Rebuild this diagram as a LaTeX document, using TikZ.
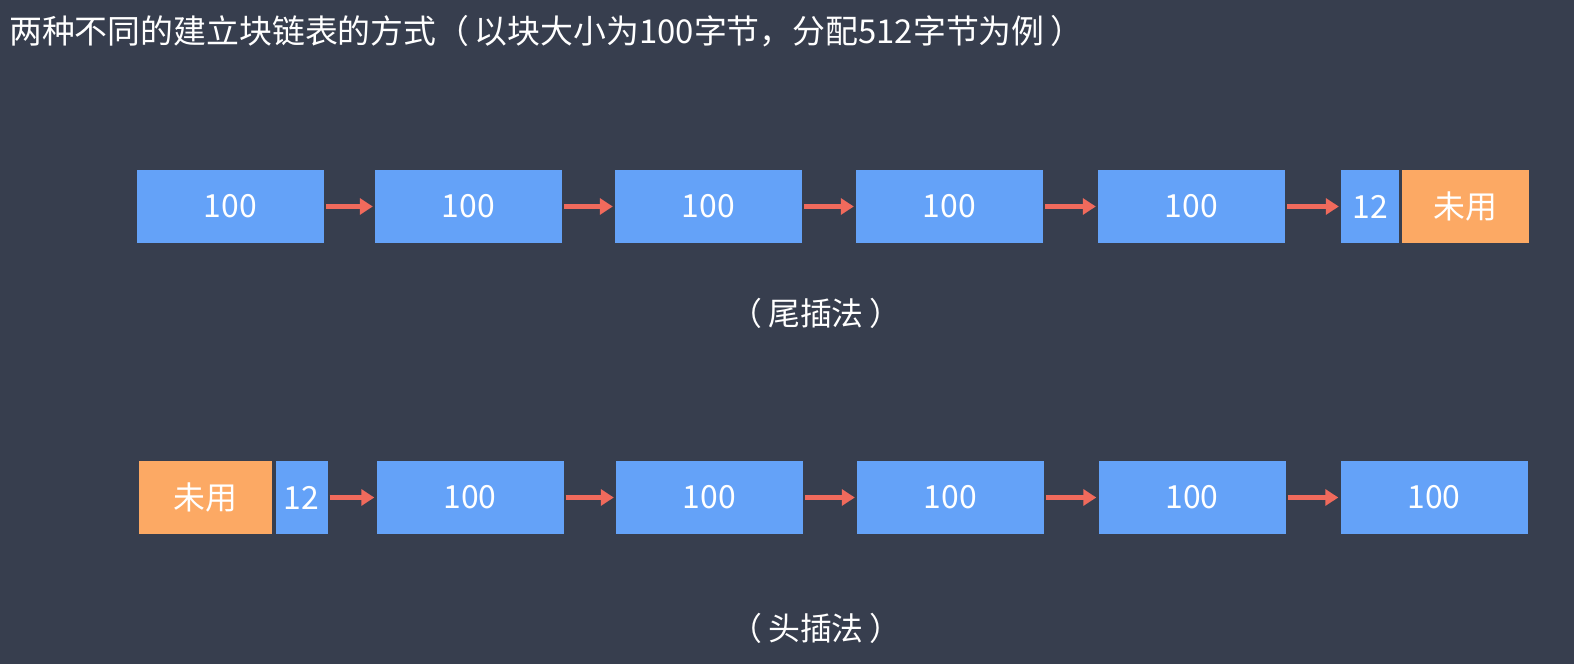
\documentclass[tikz,border=0pt]{standalone}
\usepackage{fontspec}
\setmainfont{Noto Sans CJK SC}
\usetikzlibrary{arrows.meta}
\definecolor{bgc}{HTML}{373E4E}
\definecolor{blk}{HTML}{64A2F8}
\definecolor{unused}{HTML}{FCA964}
\definecolor{arr}{HTML}{F06A5C}
\tikzset{
  blockbox/.style={fill=blk, draw=none, minimum height=73bp, inner sep=0pt, text=white, font=\fontsize{32}{36}\selectfont},
  unusedbox/.style={blockbox, fill=unused},
  link/.style={arr, line width=4.5bp, -{Triangle[length=13bp,width=16bp]}, shorten <=2bp, shorten >=2bp},
  caption/.style={text=white, font=\fontsize{32}{36}\selectfont, inner sep=0pt}
}
\begin{document}
\begin{tikzpicture}[x=1bp,y=-1bp]
\fill[bgc] (0,0) rectangle (1574,664);
\useasboundingbox (0,0) rectangle (1574,664);
\node[caption, anchor=west, font=\fontsize{33}{36}\selectfont] (title) at (9,31) {两种不同的建立块链表的方式（\,以块大小为100字节，分配512字节为例\,）};
% top row (tail insertion)
\node[blockbox, minimum width=187bp] (t1) at (230.5,206.5) {100};
\node[blockbox, minimum width=187bp] (t2) at (468.5,206.5) {100};
\node[blockbox, minimum width=187bp] (t3) at (708.5,206.5) {100};
\node[blockbox, minimum width=187bp] (t4) at (949.5,206.5) {100};
\node[blockbox, minimum width=187bp] (t5) at (1191.5,206.5) {100};
\node[blockbox, minimum width=58bp] (t6) at (1370,206.5) {12};
\node[unusedbox, minimum width=127bp] (t7) at (1465,206.5) {未用};
\draw[link] (t1.east) -- (t2.west);
\draw[link] (t2.east) -- (t3.west);
\draw[link] (t3.east) -- (t4.west);
\draw[link] (t4.east) -- (t5.west);
\draw[link] (t5.east) -- (t6.west);
\node[caption] (cap1) at (816,313) {（\,尾插法\,）};
% bottom row (head insertion)
\node[unusedbox, minimum width=133bp] (b0) at (205.5,497.5) {未用};
\node[blockbox, minimum width=52bp] (b1) at (301.5,497.5) {12};
\node[blockbox, minimum width=187bp] (b2) at (470,497.5) {100};
\node[blockbox, minimum width=187bp] (b3) at (709.5,497.5) {100};
\node[blockbox, minimum width=187bp] (b4) at (950.5,497.5) {100};
\node[blockbox, minimum width=187bp] (b5) at (1192,497.5) {100};
\node[blockbox, minimum width=187bp] (b6) at (1434,497.5) {100};
\draw[link] (b1.east) -- (b2.west);
\draw[link] (b2.east) -- (b3.west);
\draw[link] (b3.east) -- (b4.west);
\draw[link] (b4.east) -- (b5.west);
\draw[link] (b5.east) -- (b6.west);
\node[caption] (cap2) at (816,628) {（\,头插法\,）};
\end{tikzpicture}
\end{document}
